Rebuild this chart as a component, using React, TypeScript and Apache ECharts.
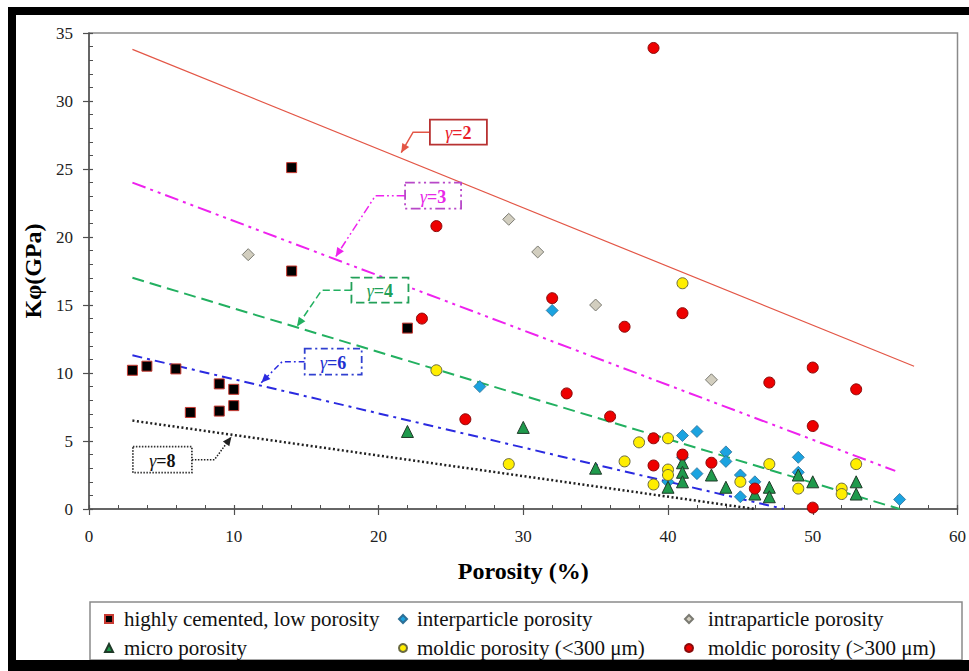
import React, { useEffect, useRef } from "react";
import * as echarts from "echarts";

// ---- axes ----
const xTicks = [0, 10, 20, 30, 40, 50, 60];
const yTicks = [0, 5, 10, 15, 20, 25, 30, 35];

// ---- series names ----
const seriesNames = [
  "highly cemented, low porosity",
  "interparticle porosity",
  "intraparticle porosity",
  "micro porosity",
  "moldic porosity (<300 μm)",
  "moldic porosity (>300 μm)",
];

// ---- data: [porosity %, Kφ GPa] ----
const highlyCemented = [
  [3, 10.2], [4, 10.5], [6, 10.3], [7, 7.1], [9, 9.2], [9, 7.2], [10, 8.8], [10, 7.6],
  [14, 25.1], [14, 17.5], [22, 13.3],
];
const interparticle = [
  [27, 9.0], [32, 14.6], [40, 2.0], [41, 5.4], [41, 3.8], [42, 5.7], [42, 2.6], [44, 4.2],
  [44, 3.5], [45, 2.5], [45, 0.9], [46, 2.0], [49, 3.8], [49, 2.7], [56, 0.7],
];
const intraparticle = [[11, 18.7], [29, 21.3], [31, 18.9], [35, 15.0], [43, 9.5]];
const microPorosity = [
  [22, 5.7], [30, 6.0], [35, 3.0], [40, 1.6], [41, 3.4], [41, 2.7], [41, 2.0], [43, 2.5],
  [44, 1.6], [46, 1.1], [47, 1.6], [47, 0.9], [49, 2.5], [50, 2.0], [53, 2.0], [53, 1.1],
];
const moldicSmall = [
  [24, 10.2], [29, 3.3], [37, 3.5], [38, 4.9], [39, 1.8], [40, 5.2], [40, 2.9], [40, 2.5],
  [41, 16.6], [45, 2.0], [47, 3.3], [49, 1.5], [52, 1.5], [52, 1.1], [53, 3.3],
];
const moldicLarge = [
  [23, 14.0], [24, 20.8], [26, 6.6], [32, 15.5], [33, 8.5], [36, 6.8], [37, 13.4], [39, 33.9],
  [39, 5.2], [39, 3.2], [41, 14.4], [41, 4.0], [43, 3.4], [46, 1.5], [47, 9.3], [50, 10.4],
  [50, 6.1], [50, 0.1], [53, 8.8],
];

// ---- gamma lines (end points) ----
const gamma2 = [[3, 33.8], [57, 10.5]];
const gamma3 = [[3, 24.0], [55.7, 2.8]];
const gamma4 = [[3, 17.0], [56, 0]];
const gamma6 = [[3, 11.3], [48, 0]];
const gamma8 = [[3, 6.5], [46, 0]];

// ---- annotation labels (data coords: arrow tip, elbow, box centre) ----
const annotLabels = ["2", "3", "4", "6", "8"];
const annotTips = [[21.57, 26.2], [17.04, 18.55], [14.37, 13.42], [11.9, 9.29], [9.84, 5.32]];
const annotElbows = [[22.39, 27.67], [19.79, 22.89], [16.08, 15.99], [13.34, 10.83], [8.67, 3.63]];
const annotBoxes = [[25.52, 27.71], [23.77, 23.04], [20.1, 16.09], [16.87, 10.83], [5.07, 3.63]];

const SERIF = "Times New Roman, Liberation Serif, Times, DejaVu Serif, serif";

const lineStyles = [
  { color: "#e35646", width: 1.2, type: "solid" as any, text: "#e8202a", box: "#b83232" },
  { color: "#ee22ee", width: 2, type: [14, 5, 3, 5, 3, 5], text: "#e828e8", box: "#b848c8" },
  { color: "#22b060", width: 2, type: [12, 6], text: "#22a058", box: "#22a058" },
  { color: "#2a2ae0", width: 2, type: [10, 5, 3, 5], text: "#2030d0", box: "#3040d0" },
  { color: "#202020", width: 2.5, type: [2, 2.5], text: "#111111", box: "#333333" },
];

export default function App() {
  const ref = useRef<HTMLDivElement>(null);

  useEffect(() => {
    if (!ref.current) return;
    const chart = echarts.init(ref.current, undefined, { renderer: "svg" });

    const axisColor = "#505050";
    const xMin = xTicks[0];
    const xMax = xTicks[xTicks.length - 1];
    const xInt = xTicks[1] - xTicks[0];
    const yMin = yTicks[0];
    const yMax = yTicks[yTicks.length - 1];
    const yInt = yTicks[1] - yTicks[0];

    const scatter = (name: string, data: number[][], symbol: string, size: number, color: string, border: string, bw = 1) => ({
      name,
      type: "scatter",
      data,
      symbol,
      symbolSize: size,
      itemStyle: { color, borderColor: border, borderWidth: bw, opacity: 1 },
      z: 5,
    });

    const lineSeries = (data: number[][], s: any) => ({
      type: "line",
      data,
      symbol: "none",
      silent: true,
      lineStyle: { color: s.color, width: s.width, type: s.type },
      z: 3,
    });

    const legendCommon = {
      orient: "vertical",
      top: 608,
      itemGap: 7,
      itemWidth: 8,
      itemHeight: 8,
      padding: 0,
      selectedMode: false,
    };
    const legendText = (pad: number) => ({
      fontFamily: SERIF,
      fontSize: 21,
      color: "#111",
      lineHeight: 22,
      padding: [0, 0, 0, pad],
    });

    chart.setOption({
      animation: false,
      backgroundColor: "#ffffff",
      textStyle: { fontFamily: SERIF },
      grid: {
        left: 89,
        right: 6,
        top: 33,
        bottom: 162,
        show: true,
        borderColor: "#8a8a8a",
        borderWidth: 1.5,
        backgroundColor: "transparent",
      },
      xAxis: [
        {
          type: "value",
          min: xMin,
          max: xMax,
          interval: xInt,
          position: "bottom",
          name: "Porosity (%)",
          nameLocation: "middle",
          nameGap: 50,
          nameTextStyle: { fontFamily: SERIF, fontSize: 24, fontWeight: "bold", color: "#000" },
          axisLine: { show: true, lineStyle: { color: axisColor, width: 1.5 } },
          axisTick: { show: true, inside: false, length: 6, lineStyle: { color: axisColor, width: 1.2 } },
          axisLabel: { margin: 19, fontFamily: SERIF, fontSize: 17, color: "#222" },
          splitLine: { show: false },
        },
        {
          type: "value",
          min: xMin,
          max: xMax,
          interval: xInt,
          position: "bottom",
          axisLine: { show: false },
          axisTick: { show: true, inside: true, length: 4, lineStyle: { color: axisColor, width: 1.2 } },
          minorTick: { show: true, splitNumber: 5, length: 4, lineStyle: { color: axisColor, width: 1 } },
          axisLabel: { show: false },
          splitLine: { show: false },
        },
      ],
      yAxis: [
        {
          type: "value",
          min: yMin,
          max: yMax,
          interval: yInt,
          position: "left",
          name: "Kφ(GPa)",
          nameLocation: "middle",
          nameGap: 44,
          nameRotate: 90,
          nameTextStyle: { fontFamily: SERIF, fontSize: 24, fontWeight: "bold", color: "#000" },
          axisLine: { show: true, lineStyle: { color: axisColor, width: 1.5 } },
          axisTick: { show: true, inside: false, length: 6, lineStyle: { color: axisColor, width: 1.2 } },
          axisLabel: { margin: 16, fontFamily: SERIF, fontSize: 17, color: "#222" },
          splitLine: { show: false },
        },
        {
          type: "value",
          min: yMin,
          max: yMax,
          interval: yInt,
          position: "left",
          axisLine: { show: false },
          axisTick: { show: true, inside: true, length: 4, lineStyle: { color: axisColor, width: 1.2 } },
          minorTick: { show: true, splitNumber: 5, length: 4, lineStyle: { color: axisColor, width: 1 } },
          axisLabel: { show: false },
          splitLine: { show: false },
        },
      ],
      legend: [
        { ...legendCommon, left: 104, data: [seriesNames[0], seriesNames[3]], textStyle: legendText(6) },
        { ...legendCommon, left: 398, data: [seriesNames[1], seriesNames[4]], textStyle: legendText(5) },
        { ...legendCommon, left: 684, data: [seriesNames[2], seriesNames[5]], textStyle: legendText(10) },
      ],
      series: [
        lineSeries(gamma2, lineStyles[0]),
        lineSeries(gamma3, lineStyles[1]),
        lineSeries(gamma4, lineStyles[2]),
        lineSeries(gamma6, lineStyles[3]),
        lineSeries(gamma8, lineStyles[4]),
        scatter(seriesNames[0], highlyCemented, "rect", 10, "#000000", "#c83a32", 1),
        scatter(seriesNames[1], interparticle, "diamond", 12, "#1ba3e0", "#2d6f96", 0.8),
        scatter(seriesNames[2], intraparticle, "diamond", 12, "#d2cebf", "#7a7a72", 1),
        scatter(seriesNames[3], microPorosity, "triangle", 12, "#1f9a4c", "#1f3a28", 1),
        scatter(seriesNames[4], moldicSmall, "circle", 11, "#ffee00", "#6a6a40", 1),
        scatter(seriesNames[5], moldicLarge, "circle", 11, "#ee0000", "#8a0a0a", 1),
      ],
    });

    // annotations positioned through the axes
    const toPx = (p: number[]) => chart.convertToPixel({ xAxisIndex: 0, yAxisIndex: 0 }, p) as number[];
    const graphics: any[] = [];
    // black frame & legend box
    graphics.push({ type: "rect", shape: { x: 8, y: 7, width: 8, height: 664 }, style: { fill: "#000" }, z: 10 });
    graphics.push({ type: "rect", shape: { x: 8, y: 7, width: 961, height: 8 }, style: { fill: "#000" }, z: 10 });
    graphics.push({ type: "rect", shape: { x: 8, y: 660, width: 961, height: 11 }, style: { fill: "#000" }, z: 10 });
    graphics.push({
      type: "rect",
      shape: { x: 90, y: 602, width: 872, height: 58 },
      style: { fill: "none", stroke: "#8a8a8a", lineWidth: 1.5 },
      z: 1,
    });

    const boxW = [57, 56, 57, 57, 59];
    const boxH = [25, 26, 25, 26, 26];
    annotLabels.forEach((lab, i) => {
      const s = lineStyles[i];
      const tip = toPx(annotTips[i]);
      const elbow = toPx(annotElbows[i]);
      const c = toPx(annotBoxes[i]);
      const w = boxW[i];
      const h = boxH[i];
      const dash = s.type === "solid" ? null : s.type;
      const start = elbow[0] < c[0] ? [c[0] - w / 2, c[1]] : [c[0] + w / 2, c[1]];
      graphics.push({
        type: "polyline",
        shape: { points: [start, [elbow[0], c[1]], tip] },
        style: { stroke: s.color, lineWidth: 1.5, fill: "none", lineDash: dash ? (i === 4 ? [1.5, 1.5] : dash.map((d: number) => d * 0.6)) : null },
        z: 6,
      });
      const dx = tip[0] - elbow[0];
      const dy = tip[1] - c[1];
      const len = Math.sqrt(dx * dx + dy * dy) || 1;
      const ux = dx / len;
      const uy = dy / len;
      const al = 9;
      const aw = 4;
      const bx = tip[0] - ux * al;
      const by = tip[1] - uy * al;
      graphics.push({
        type: "polygon",
        shape: {
          points: [
            [tip[0], tip[1]],
            [bx - uy * aw, by + ux * aw],
            [bx + uy * aw, by - ux * aw],
          ],
        },
        style: { fill: s.color, stroke: "none" },
        z: 6,
      });
      graphics.push({
        type: "rect",
        shape: { x: c[0] - w / 2, y: c[1] - h / 2, width: w, height: h },
        style: {
          fill: "#ffffff",
          stroke: s.box,
          lineWidth: 1.8,
          lineDash: dash ? (i === 4 ? [1.5, 1.5] : dash.map((d: number) => d * 0.7)) : null,
        },
        z: 6,
      });
      graphics.push({
        type: "text",
        style: {
          x: c[0],
          y: c[1] + 1,
          text: "{g|γ}{n|=" + lab + "}",
          align: "center",
          verticalAlign: "middle",
          fontFamily: SERIF,
          rich: {
            g: { fontFamily: SERIF, fontSize: 18, fontStyle: "italic", fill: s.text, color: s.text },
            n: { fontFamily: SERIF, fontSize: 18, fontWeight: "bold", fill: s.text, color: s.text },
          },
        },
        z: 7,
      });
    });

    chart.setOption({ graphic: graphics });

    return () => {
      chart.dispose();
    };
  }, []);

  return (
    <div
      ref={ref}
      style={{ position: "absolute", left: 0, top: 0, width: 969, height: 671, background: "#fff" }}
    />
  );
}
